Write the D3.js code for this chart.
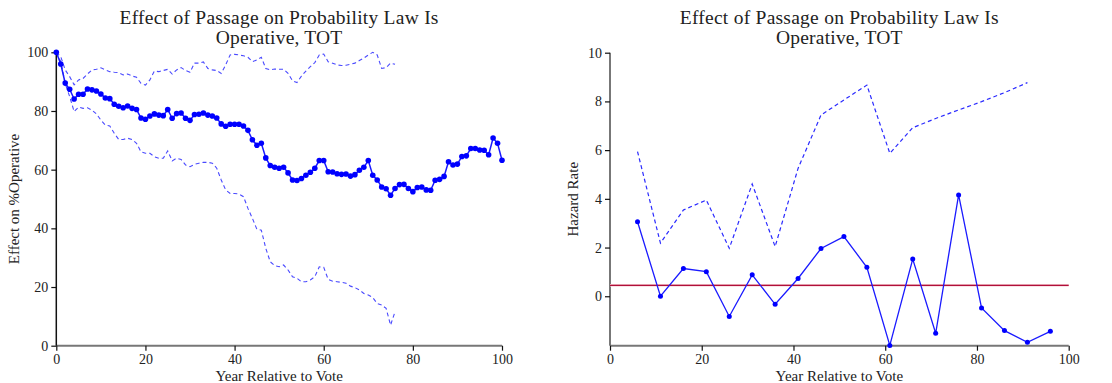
<!DOCTYPE html>
<html><head><meta charset="utf-8">
<script src="https://cdn.jsdelivr.net/npm/d3@7"></script>
<style>body{margin:0;background:#fff}svg{display:block}text{font-family:"Liberation Serif","DejaVu Serif",serif;fill:#222}</style>
</head><body><svg id="c" width="1112" height="383"></svg>
<script>
const titleLines = ["Effect of Passage on Probability Law Is","Operative, TOT"];
const xLabel = "Year Relative to Vote";
const leftYLabel = "Effect on %Operative";
const rightYLabel = "Hazard Rate";
const leftXTicks = [0,20,40,60,80,100];
const leftYTicks = [0,20,40,60,80,100];
const rightXTicks = [0,20,40,60,80,100];
const rightYTicks = [0,2,4,6,8,10];

// Left panel: yearly effect (0..100)
const leftEst = [100,96,89.5,87.4,84.1,85.7,85.7,87.5,87.2,86.8,85.8,84.4,84.2,82.3,81.6,81.1,81.7,80.9,80.5,77.6,
77.2,78.3,79.0,78.6,78.4,80.5,77.5,79.1,79.3,77.5,76.8,78.8,78.9,79.3,78.6,78.3,77.6,75.6,74.8,75.5,
75.5,75.5,74.9,73.4,70.2,68.3,69.0,64.0,61.4,60.8,60.5,60.8,58.9,56.5,56.3,57.0,58.1,59.1,60.5,63.1,
63.1,59.3,59.2,58.6,58.4,58.5,57.8,58.3,59.8,60.8,63.1,58.1,56.5,54.1,53.5,51.3,53.6,54.9,55.0,53.6,
52.5,53.9,54.1,53.1,53.0,56.4,56.7,57.7,62.7,61.6,61.9,64.5,64.7,67.2,67.2,66.7,66.6,65.1,70.8,69.0,63.2];
const leftUpper = [100,98.5,94,91.7,88.9,90.6,91.1,92.6,94,94.2,94.7,94,93.4,93.2,93.1,92.3,92.6,91.9,91.5,89.4,
88.8,90.6,93.6,93.4,93.8,94.2,92.6,94,94.8,93.8,93.2,96.3,96.3,96.7,94.5,94,93.8,92.8,95.7,99.1,
99.3,99.1,98.8,98.3,96.8,97.4,98.3,94.5,94,94.3,94.2,94.2,92.8,90.3,89.7,91.9,93.6,95.1,96.5,99.1,
99.4,96.8,96.3,95.7,95.5,95.6,95.9,96.3,97.2,98,99.1,100,99.1,94.5,94.8,96.3,95.9];
const leftLower = [100,96.8,89.4,84.9,79.8,81.3,80.9,81.1,80.3,79,76.9,75.2,74.9,72.4,70.3,70.3,70.7,70.3,69,66.1,
65.6,65.6,64.4,63.9,63.9,66.4,63,63.9,63.5,61.6,61,61.8,62.2,62.5,62.5,62.2,60.5,56.5,53.1,51.9,
51.9,51.7,50.8,46.8,43.4,39.7,39.4,33.2,28.6,27.3,26.9,27.5,25.8,23.5,23,21.8,21.8,22.4,23.5,26.9,
26.7,22.6,22,21.8,21.6,21.3,20.3,19.8,19,17.8,17.3,16.4,14.4,13.9,12.7,7,11.6];

// Right panel: hazard rate every 5 years
const rightYears = [6,11,16,21,26,31,36,41,46,51,56,61,66,71,76,81,86,91,96];
const rightEst = [3.06,0,1.14,1.01,-0.83,0.88,-0.33,0.73,1.96,2.45,1.19,-2.02,1.53,-1.52,4.16,-0.48,-1.41,-1.89,-1.44];
const rightUpper = [5.94,2.18,3.54,3.95,1.97,4.61,2.04,5.25,7.44,8.06,8.67,5.87,6.92,7.3,7.65,7.99,8.36,8.77];
const rightRef = 0.45;

const svg = d3.select("#c");

function panel(o){
  const g = svg.append("g");
  const x = d3.scaleLinear().domain([0,100]).range([o.x0,o.x1]);
  const y = d3.scaleLinear().domain(o.ydom).range([o.y0,o.y1]);
  g.append("line").attr("x1",o.x0).attr("x2",o.x1).attr("y1",o.y0).attr("y2",o.y0)
    .attr("stroke","#777").attr("stroke-width",2);
  g.append("line").attr("x1",o.x0).attr("x2",o.x0).attr("y1",o.y0).attr("y2",y(o.yTicks[o.yTicks.length-1]))
    .attr("stroke",o.yAxisColor).attr("stroke-width",o.yAxisColor==="#777"?2:1.5);
  const xa = g.append("g").attr("transform",`translate(0,${o.y0})`)
    .call(d3.axisBottom(x).tickValues(o.xTicks).tickSize(5).tickPadding(3));
  const ya = g.append("g").attr("transform",`translate(${o.x0},0)`)
    .call(d3.axisLeft(y).tickValues(o.yTicks).tickSize(5).tickPadding(3));
  [xa,ya].forEach(a=>{a.select(".domain").remove();
    a.selectAll("line").attr("stroke","#111").attr("stroke-width",1.2);
    a.selectAll("text").attr("font-size",14).attr("fill","#222").style("font-family",'"Liberation Serif",serif');});
  const cx=(o.x0+o.x1)/2;
  titleLines.forEach((s,i)=>{
    g.append("text").attr("x",cx).attr("y",24+i*20).attr("text-anchor","middle")
      .attr("font-size",19.5).attr("letter-spacing",i===0?0.25:0.2).text(s);
  });
  g.append("text").attr("x",cx).attr("y",381).attr("text-anchor","middle").attr("font-size",15).text(xLabel);
  g.append("text").attr("transform",`translate(${o.x0-o.ylabOff},${(o.y0+o.y1)/2}) rotate(-90)`)
    .attr("text-anchor","middle").attr("dy","0.35em").attr("font-size",15).text(o.ylabel);
  return {g,x,y};
}

// Left
const L = panel({x0:56.3,x1:502,y0:345.7,y1:52.3,ydom:[0,100],xTicks:leftXTicks,yTicks:leftYTicks,ylabel:leftYLabel,yAxisColor:"#111",ylabOff:43});
const lineL = (arr)=>d3.line().x((d,i)=>L.x(i)).y(d=>L.y(d))(arr);
[leftUpper,leftLower].forEach(a=>L.g.append("path").attr("d",lineL(a)).attr("fill","none")
  .attr("stroke","#4a4aff").attr("stroke-width",1.1).attr("stroke-dasharray","4,3"));
L.g.append("path").attr("d",lineL(leftEst)).attr("fill","none").attr("stroke","#1a1aff").attr("stroke-width",1.5);
L.g.selectAll("circle.p").data(leftEst).enter().append("circle")
  .attr("cx",(d,i)=>L.x(i)).attr("cy",d=>L.y(d)).attr("r",2.8).attr("fill","#0000ff");

// Right
const yMin = -2.03;
const R = panel({x0:610,x1:1068.7,y0:345.7,y1:52.7,ydom:[yMin,10],xTicks:rightXTicks,yTicks:rightYTicks,ylabel:rightYLabel,yAxisColor:"#777",ylabOff:37});
const lineR = d3.line().x(d=>R.x(d[0])).y(d=>R.y(d[1]));
R.g.append("path").attr("d",lineR(rightUpper.map((v,i)=>[rightYears[i],v]))).attr("fill","none")
  .attr("stroke","#2a2aff").attr("stroke-width",1.2).attr("stroke-dasharray","4,3");
R.g.append("line").attr("x1",R.x(0)).attr("x2",R.x(100)).attr("y1",R.y(rightRef)).attr("y2",R.y(rightRef))
  .attr("stroke","#f5c8d0").attr("stroke-width",2.6);
R.g.append("line").attr("x1",R.x(0)).attr("x2",R.x(100)).attr("y1",R.y(rightRef)).attr("y2",R.y(rightRef))
  .attr("stroke","#b0103a").attr("stroke-width",1.2);
R.g.append("path").attr("d",lineR(rightEst.map((v,i)=>[rightYears[i],v]))).attr("fill","none")
  .attr("stroke","#1a1aff").attr("stroke-width",1.3);
R.g.selectAll("circle.p").data(rightEst).enter().append("circle")
  .attr("cx",(d,i)=>R.x(rightYears[i])).attr("cy",d=>R.y(d)).attr("r",2.5).attr("fill","#0000ff");
</script></body></html>
